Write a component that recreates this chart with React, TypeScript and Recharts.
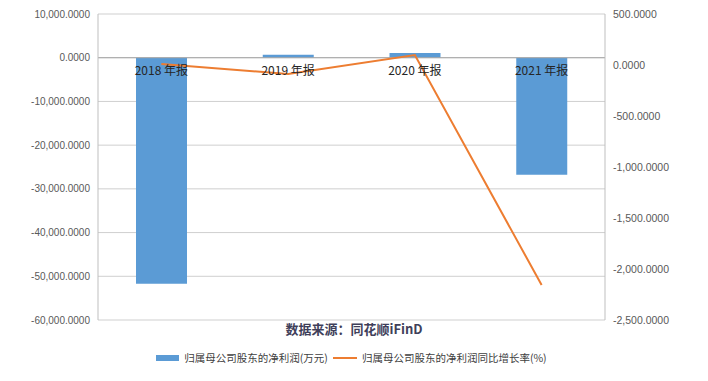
import React from 'react';
import {
  ComposedChart,
  Bar,
  Line,
  XAxis,
  YAxis,
  CartesianGrid,
  ReferenceLine,
  ReferenceDot,
  Legend,
} from 'recharts';

// values
const categories = ['2018 年报', '2019 年报', '2020 年报', '2021 年报'];
const netProfit = [-51700, 700, 1100, -26800];
const growthRate = [10, -88, 98, -2157];
const leftTicks = [10000, 0, -10000, -20000, -30000, -40000, -50000, -60000];
const rightTicks = [500, 0, -500, -1000, -1500, -2000, -2500];
const seriesNames = ['归属母公司股东的净利润(万元)', '归属母公司股东的净利润同比增长率(%)'];
const sourceText = '数据来源：同花顺iFinD';

const BLUE = '#5b9bd5';
const ORANGE = '#ed7d31';
const CJK = '"Noto Sans CJK SC", "Liberation Sans", sans-serif';

const data = categories.map((name, i) => ({
  name,
  profit: netProfit[i],
  growth: growthRate[i],
}));

const fmt = (v: number) =>
  v.toLocaleString('en-US', { minimumFractionDigits: 4, maximumFractionDigits: 4 });

const renderLegend = (props: any) => {
  const items = props.payload || [];
  return (
    <div style={{ display: 'flex', justifyContent: 'center', alignItems: 'center', fontFamily: CJK, fontSize: 10.5, color: '#404040' }}>
      {items.map((item: any) => (
        <div key={item.value} style={{ display: 'flex', alignItems: 'center', marginRight: 5 }}>
          {item.type === 'rect' ? (
            <span style={{ display: 'inline-block', width: 23, height: 6, background: item.color, marginRight: 5 }} />
          ) : (
            <span style={{ display: 'inline-block', width: 24, height: 2, background: item.color, marginRight: 5 }} />
          )}
          <span>{item.value}</span>
        </div>
      ))}
    </div>
  );
};

export default function App() {
  return (
    <div style={{ position: 'absolute', left: 0, top: 0, width: 708, height: 381, background: '#fff' }}>
      <ComposedChart
        width={708}
        height={381}
        data={data}
        margin={{ top: 14, right: 0, bottom: 61, left: 0 }}
      >
        <CartesianGrid yAxisId="left" vertical={false} stroke="#cfcfcf" />
        <XAxis dataKey="name" hide />
        <YAxis
          yAxisId="left"
          width={98}
          domain={[-60000, 10000]}
          ticks={leftTicks}
          tickFormatter={fmt}
          tickLine={false}
          axisLine={{ stroke: '#bfbfbf' }}
          tick={{ fill: '#595959', fontSize: 10, fontFamily: 'Liberation Sans' }}
          interval={0}
        />
        <YAxis
          yAxisId="right"
          orientation="right"
          width={103}
          domain={[-2500, 500]}
          ticks={rightTicks}
          tickFormatter={fmt}
          tickLine={false}
          axisLine={{ stroke: '#bfbfbf' }}
          tick={{ fill: '#595959', fontSize: 10.5, fontFamily: 'Liberation Sans', textAnchor: 'start' }}
          interval={0}
        />
        <ReferenceLine yAxisId="left" y={0} stroke="#a6a6a6" />
        <Bar
          yAxisId="left"
          dataKey="profit"
          name={seriesNames[0]}
          fill={BLUE}
          barSize={51}
          legendType="rect"
          isAnimationActive={false}
        />
        {categories.map((c) => (
          <ReferenceDot
            key={c}
            yAxisId="left"
            x={c}
            y={0}
            r={0}
            stroke="none"
            fill="none"
            label={{ value: c, position: 'bottom', offset: 9, fill: '#262626', fontSize: 12, fontFamily: CJK }}
          />
        ))}
        <Line
          yAxisId="right"
          type="linear"
          dataKey="growth"
          name={seriesNames[1]}
          stroke={ORANGE}
          strokeWidth={2}
          dot={false}
          legendType="plainline"
          isAnimationActive={false}
        />
        <Legend
          verticalAlign="middle"
          content={renderLegend}
          wrapperStyle={{ top: 350, left: 0, width: 708 }}
        />
      </ComposedChart>
      <div
        style={{
          position: 'absolute',
          top: 319,
          left: 0,
          width: 708,
          textAlign: 'center',
          fontFamily: CJK,
          fontWeight: 'bold',
          fontSize: 13,
          color: '#3f3f5a',
        }}
      >
        {sourceText}
      </div>
    </div>
  );
}
